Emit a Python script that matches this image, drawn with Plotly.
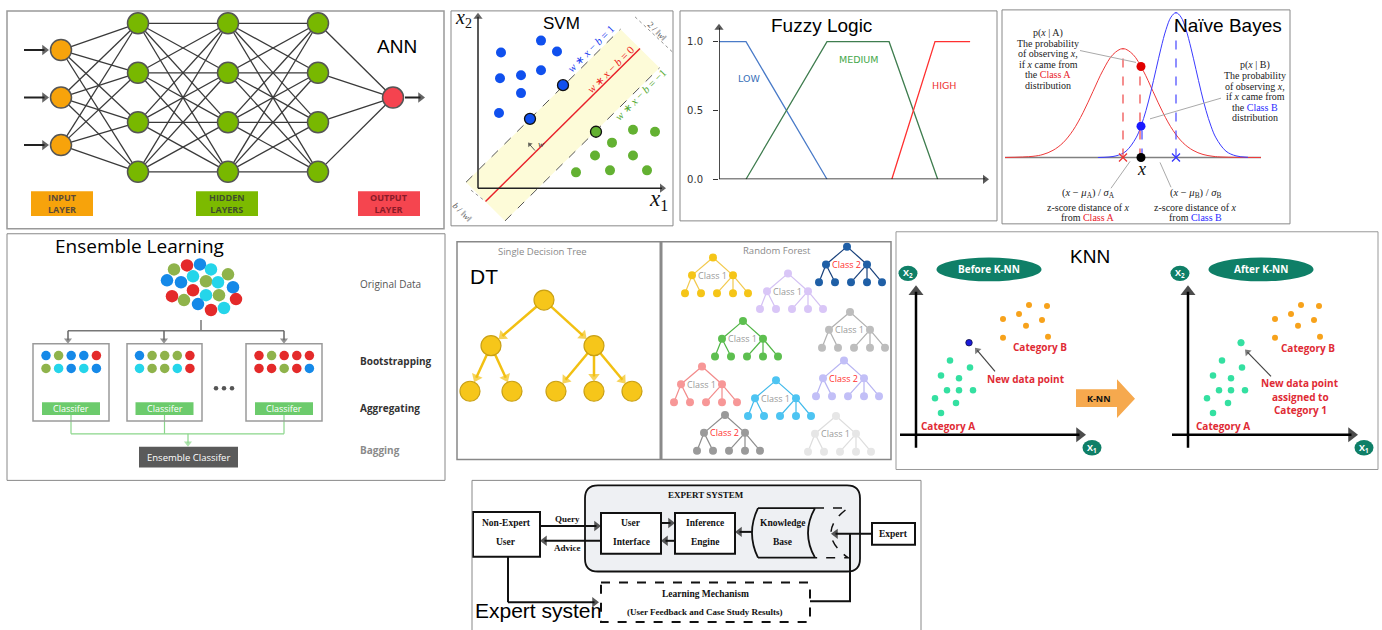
import math
import plotly.graph_objects as go

W, H = 1382, 630

# ============================ DATA ============================
# --- ANN ---
ann_layer_sizes = [3, 4, 4, 4, 1]
ann_layer_roles = ["input", "hidden", "hidden", "hidden", "output"]
ann_box_labels = ["INPUT<br>LAYER", "HIDDEN<br>LAYERS", "OUTPUT<br>LAYER"]

# --- SVM (feature space x1, x2) ---
svm_blue_x1 = [2.3, 6.3, 7.9, 2.2, 4.3, 6.3, 4.3, 2.1]
svm_blue_x2 = [13.7, 14.9, 13.8, 11.1, 11.4, 11.9, 9.6, 7.6]
svm_blue_sv_x1 = [8.5, 5.2]
svm_blue_sv_x2 = [10.4, 7.0]
svm_green_x1 = [15.5, 17.7, 13.4, 15.5, 11.7, 13.2, 16.9, 9.8]
svm_green_x2 = [5.9, 5.7, 4.6, 3.3, 3.3, 1.8, 1.8, 1.6]
svm_green_sv_x1 = [11.8]
svm_green_sv_x2 = [5.7]
svm_boundary = 2.1      # x1 - x2 on the separating hyperplane
svm_margin = 3.9
svm_line_labels = ["<i>w</i> ∗ <i>x</i> − <i>b</i> = 1",
                   "<i>w</i> ∗ <i>x</i> − <i>b</i> = 0",
                   "<i>w</i> ∗ <i>x</i> − <i>b</i> = −1"]

# --- Fuzzy logic membership functions ---
fz_low_x = [0, 1, 4]
fz_low_y = [1, 1, 0]
fz_med_x = [1, 4, 6.3, 8.1]
fz_med_y = [0, 1, 1, 0]
fz_high_x = [6.4, 8, 9.3]
fz_high_y = [0, 1, 1]
fz_tickvals = [0, 0.5, 1.0]
fz_ticktext = ["0.0", "0.5", "1.0"]

# --- Naive Bayes ---
nb_a_x = [0.2, 3, 4, 5, 6, 7, 8, 9, 10, 11, 12, 13, 14, 15, 16, 17, 18, 19, 20, 21, 22, 25.8]
nb_a_p = [0.0, 0.011, 0.028, 0.066, 0.135, 0.249, 0.411, 0.607, 0.801, 0.946, 1.0, 0.946,
          0.801, 0.607, 0.411, 0.249, 0.135, 0.066, 0.028, 0.011, 0.004, 0.0]
nb_b_x = [9.5, 11.3, 12.3, 13.3, 13.8, 14.3, 14.8, 15.3, 15.8, 16.3, 16.8, 17.3, 17.8, 18.3,
          18.8, 19.3, 19.8, 20.3, 20.8, 21.3, 22.3, 23.3, 24.5]
nb_b_p = [0.0, 0.015, 0.058, 0.18, 0.288, 0.432, 0.609, 0.807, 1.004, 1.174, 1.289, 1.33, 1.289,
          1.174, 1.004, 0.807, 0.609, 0.432, 0.288, 0.18, 0.058, 0.015, 0.002]
nb_mu_a, nb_peak_a = 12.0, 1.0
nb_mu_b, nb_peak_b = 17.3, 1.33
nb_obs, nb_pa_obs, nb_pb_obs = 13.8, 0.835, 0.288
nb_left_text = ["p(<i>x</i> | A)", "The probability", "of observing <i>x</i>,", "if <i>x</i> came from",
                "the <span style='color:#e8202a'>Class A</span>", "distribution"]
nb_right_text = ["p(<i>x</i> | B)", "The probability", "of observing <i>x</i>,", "if <i>x</i> came from",
                 "the <span style='color:#2a2aff'>Class B</span>", "distribution"]
nb_bl_text = ["(<i>x</i> − <i>μ</i><sub>A</sub>) / <i>σ</i><sub>A</sub>", "z-score distance of <i>x</i>",
              "from <span style='color:#e8202a'>Class A</span>"]
nb_br_text = ["(<i>x</i> − <i>μ</i><sub>B</sub>) / <i>σ</i><sub>B</sub>", "z-score distance of <i>x</i>",
              "from <span style='color:#2a2aff'>Class B</span>"]

# --- Ensemble learning ---
ens_cloud_x = [174, 187, 200, 211, 228, 167, 181, 193, 206, 218, 233, 172, 184, 193, 206, 219, 236, 198, 211, 224]
ens_cloud_y = [272, 268, 267, 272, 277, 283, 285, 279, 284, 285, 290, 299, 303, 293, 298, 298, 302, 307, 313, 311]
ens_cloud_c = ["G", "R", "B", "C", "G", "B", "B", "C", "G", "C", "B", "R", "G", "R", "C", "G", "R", "B", "R", "C"]
ens_bootstrap = [["B", "G", "B", "B", "R", "G", "C", "B", "C", "B"],
                 ["B", "G", "G", "G", "R", "C", "G", "G", "C", "R"],
                 ["R", "G", "R", "R", "R", "R", "R", "G", "R", "B"]]
ens_stage_labels = ["Original Data", "Bootstrapping", "Aggregating", "Bagging"]

# --- Decision tree / random forest ---
dt_parent = [None, 0, 0, 1, 1, 2, 2, 2]
rf_labels = ["Class 1", "Class 1", "Class 2", "Class 1", "Class 1", "Class 1", "Class 1", "Class 2", "Class 2", "Class 1"]

# --- KNN ---
knn_b_x1 = [11.3, 13.1, 8.7, 10.3, 12.6, 11.0, 8.7, 13.2]
knn_b_x2 = [13.1, 13.0, 11.7, 12.2, 11.6, 11.0, 9.8, 9.9]
knn_a_x1 = [3.4, 5.4, 2.5, 4.3, 3.1, 4.3, 5.7, 1.9, 4.0, 2.5]
knn_a_x2 = [7.5, 6.8, 6.0, 5.7, 4.5, 4.5, 4.5, 3.7, 3.2, 2.2]
knn_new_x1, knn_new_x2 = 5.3, 9.3

# --- Expert system ---
es_boxes = ["Non-Expert<br>User", "User<br>Interface", "Inference<br>Engine", "Expert"]

# ============================ HELPERS ============================
SANS = "Liberation Sans, Arial, sans-serif"
OPEN = "Open Sans, sans-serif"
SERIF = "Liberation Serif, Times New Roman, serif"
DJV = "DejaVu Sans, Verdana, sans-serif"

fig = go.Figure()
AX, ANN, SHP = {}, [], []
_n = [0]


def new_axis(px0, px1, py0, py1, xr=None, yr=None):
    _n[0] += 1
    s = "" if _n[0] == 1 else str(_n[0])
    xr = xr or [px0, px1]
    yr = yr or [py1, py0]
    AX["xaxis" + s] = dict(domain=[px0 / W, px1 / W], range=xr, visible=False,
                           anchor="y" + s, fixedrange=True)
    AX["yaxis" + s] = dict(domain=[1 - py1 / H, 1 - py0 / H], range=yr, visible=False,
                           anchor="x" + s, fixedrange=True)
    sx = (px1 - px0) / (xr[1] - xr[0])      # screen px per unit (rightwards)
    sy = (py1 - py0) / (yr[1] - yr[0])      # screen px per unit (upwards)
    return ("x" + s, "y" + s, s, sx, sy)


def T(a, x, y, s, size=10, color="#000", fam=SANS, xanchor="center", yanchor="middle", angle=0):
    ANN.append(dict(xref=a[0], yref=a[1], x=x, y=y, text=s, showarrow=False,
                    font=dict(size=size, color=color, family=fam),
                    xanchor=xanchor, yanchor=yanchor, textangle=angle))


def ARW(a, x0, y0, x1, y1, color="#000", width=1.5, head=8, standoff=0, startstandoff=0):
    sx, sy = a[3], a[4]
    X0, Y0, X1, Y1 = x0 * sx, y0 * sy, x1 * sx, y1 * sy
    L = math.hypot(X1 - X0, Y1 - Y0)
    ux, uy = (X1 - X0) / L, (Y1 - Y0) / L
    tx, ty = X1 - ux * standoff, Y1 - uy * standoff
    bx, by = X0 + ux * startstandoff, Y0 + uy * startstandoff
    cx, cy = tx - ux * head / 2, ty - uy * head / 2
    fig.add_trace(go.Scatter(x=[bx / sx, cx / sx], y=[by / sy, cy / sy], xaxis=a[0], yaxis=a[1],
                             mode="lines+markers", line=dict(color=color, width=width),
                             marker=dict(symbol="triangle-up", size=[0, head], color=color,
                                         angleref="previous", line=dict(width=0)),
                             hoverinfo="skip", showlegend=False, cliponaxis=False))


def LN(a, polys, color, width=1.0, dash=None, shape="linear"):
    xs, ys = [], []
    for poly in polys:
        for p in poly:
            xs.append(p[0]); ys.append(p[1])
        xs.append(None); ys.append(None)
    fig.add_trace(go.Scatter(x=xs, y=ys, xaxis=a[0], yaxis=a[1], mode="lines",
                             line=dict(color=color, width=width, dash=dash, shape=shape),
                             hoverinfo="skip", showlegend=False, cliponaxis=False))


def PT(a, x, y, color, size, lc=None, lw=0, symbol="circle"):
    fig.add_trace(go.Scatter(x=list(x), y=list(y), xaxis=a[0], yaxis=a[1], mode="markers",
                             marker=dict(color=color, size=size, symbol=symbol,
                                         line=dict(color=lc or color, width=lw)),
                             hoverinfo="skip", showlegend=False, cliponaxis=False))


def RECT(a, x0, y0, x1, y1, fill="rgba(0,0,0,0)", lc="rgba(0,0,0,0)", lw=0, dash="solid", layer="above"):
    SHP.append(dict(type="rect", xref=a[0], yref=a[1], x0=x0, y0=y0, x1=x1, y1=y1,
                    fillcolor=fill, line=dict(color=lc, width=lw, dash=dash), layer=layer))


def ELL(a, cx, cy, rx, ry, fill):
    SHP.append(dict(type="circle", xref=a[0], yref=a[1], x0=cx - rx, x1=cx + rx, y0=cy - ry, y1=cy + ry,
                    fillcolor=fill, line=dict(width=0), layer="above"))


def PATH(a, d, lc="#000", lw=1.5, dash="solid", fill="rgba(0,0,0,0)", layer="above"):
    SHP.append(dict(type="path", xref=a[0], yref=a[1], path=d,
                    line=dict(color=lc, width=lw, dash=dash), fillcolor=fill, layer=layer))


def BORDER(px0, py0, px1, py1, color="#999", lw=1):
    SHP.append(dict(type="rect", xref="paper", yref="paper", x0=px0 / W, x1=px1 / W,
                    y0=1 - py1 / H, y1=1 - py0 / H, line=dict(color=color, width=lw),
                    fillcolor="rgba(0,0,0,0)", layer="above"))


# ============================ ANN ============================
a = new_axis(7, 444, 11, 231)
ann_x = [61, 138, 228, 318, 393]
ann_cy = 98.5
ann_gap = {1: 0, 3: 48, 4: 50}
role_col = {"input": "#F7A30B", "hidden": "#78B800", "output": "#F5434F"}
nodes = []
for L, n in enumerate(ann_layer_sizes):
    nodes.append([(ann_x[L], ann_cy + (i - (n - 1) / 2) * ann_gap[n]) for i in range(n)])
edges = []
for L in range(len(nodes) - 1):
    for p in nodes[L]:
        for q in nodes[L + 1]:
            edges.append([p, q])
LN(a, edges, "#3a3a3a", 1.3)
for L, layer_nodes in enumerate(nodes):
    PT(a, [p[0] for p in layer_nodes], [p[1] for p in layer_nodes], role_col[ann_layer_roles[L]], 21, "#555", 1.5)
for p in nodes[0]:
    ARW(a, 24, p[1], 49, p[1], "#222", 2, 9)
ARW(a, 405, ann_cy, 425, ann_cy, "#222", 2, 9)
box_geo = [(31, 93, "#F7A30B", "#5b4a36"), (196, 258, "#7CBA00", "#3f4d2c"), (358, 420, "#F5454F", "#8a1a28")]
for (x0, x1, fc, tc), lab in zip(box_geo, ann_box_labels):
    RECT(a, x0, 193, x1, 218, fill=fc)
    T(a, (x0 + x1) / 2, 205.5, "<b>" + lab + "</b>", 9, tc, OPEN)
T(a, 397, 47, "ANN", 19, "#000", SANS)
BORDER(7, 11, 444, 231, "#999", 1.5)

# ============================ SVM ============================
a = new_axis(451, 673, 11, 228, xr=[-2.7, 19.5], yr=[-3.8, 17.9])


def hp(m, s):
    return ((m + s) / 2, (s - m) / 2)


s0, s1 = -0.6, 30.3
m_u, m_l = svm_boundary - svm_margin, svm_boundary + svm_margin
band = [hp(m_u, s0), hp(m_l, s0), hp(m_l, s1), hp(m_u, s1), hp(m_u, s0)]
fig.add_trace(go.Scatter(x=[p[0] for p in band], y=[p[1] for p in band], xaxis=a[0], yaxis=a[1],
                         mode="lines", fill="toself", fillcolor="#fdfbd8", line=dict(width=0),
                         hoverinfo="skip", showlegend=False))
LN(a, [[hp(m_u, s0), hp(m_u, s1)], [hp(m_l, s0), hp(m_l, s1)]], "#555", 1, "dash")
LN(a, [[hp(svm_boundary, s0), hp(svm_boundary, s1)]], "#e8202a", 1.5)
ARW(a, 0, 0, 0, 17.7, "#222", 1.5, 8)
ARW(a, 0, 0, 18.8, 0, "#222", 1.5, 8)
PT(a, svm_blue_x1, svm_blue_x2, "#1050ee", 10)
PT(a, svm_blue_sv_x1, svm_blue_sv_x2, "#1050ee", 11, "#111", 1.3)
PT(a, svm_green_x1, svm_green_x2, "#63b132", 10)
PT(a, svm_green_sv_x1, svm_green_sv_x2, "#63b132", 11, "#111", 1.3)
T(a, 11.2, 14.1, svm_line_labels[0], 11, "#2040f0", SERIF, angle=-45)
T(a, 13.3, 12.0, svm_line_labels[1], 11, "#ee2020", SERIF, angle=-45)
T(a, 16.2, 9.4, svm_line_labels[2], 11, "#55aa33", SERIF, angle=-45)
ARW(a, 5.7, 3.8, 5.0, 4.6, "#333", 0.8, 5)
T(a, 6.3, 4.5, "<i>w</i>", 9, "#333", SERIF)
LN(a, [[(15.7, 17.3), (19.5, 13.7)], [(-0.7, -0.2), (0.7, -1.3)]], "#777", 0.8, "dot")
T(a, 17.9, 15.9, "2 / ‖<i>w</i>‖", 9, "#555", SERIF, angle=45)
T(a, -1.6, -2.4, "<i>b</i> / ‖<i>w</i>‖", 9, "#555", SERIF, angle=45)
T(a, -1.5, 17.1, "<i>x</i><sub>2</sub>", 20, "#111", SERIF)
T(a, 18.0, -1.2, "<i>x</i><sub>1</sub>", 23, "#111", SERIF)
T(a, 8.3, 16.6, "SVM", 17, "#000", SANS)
BORDER(451, 11, 673, 228, "#888", 1)

# ============================ FUZZY ============================
a = new_axis(719, 989, 24, 181, xr=[0, 10], yr=[0, 1.13])
AX["yaxis" + a[2]].update(visible=True, showgrid=False, zeroline=False, showline=False, ticks="outside",
                          ticklen=5, tickwidth=1, tickcolor="#333", tickvals=fz_tickvals,
                          ticktext=fz_ticktext, tickfont=dict(size=10, color="#333", family=DJV),
                          ticklabelstandoff=8)
fig.add_trace(go.Scatter(x=fz_low_x, y=fz_low_y, xaxis=a[0], yaxis=a[1], mode="lines",
                         line=dict(color="#4a7bc8", width=1.3), hoverinfo="skip", showlegend=False, cliponaxis=False))
fig.add_trace(go.Scatter(x=fz_med_x, y=fz_med_y, xaxis=a[0], yaxis=a[1], mode="lines",
                         line=dict(color="#3f7d4f", width=1.3), hoverinfo="skip", showlegend=False, cliponaxis=False))
fig.add_trace(go.Scatter(x=fz_high_x, y=fz_high_y, xaxis=a[0], yaxis=a[1], mode="lines",
                         line=dict(color="#ff3030", width=1.3), hoverinfo="skip", showlegend=False, cliponaxis=False))
ARW(a, 0, 0, 0, 1.13, "#111", 1.5, 8)
ARW(a, 0, 0, 10, 0, "#111", 1.5, 8)
T(a, 1.11, 0.73, "LOW", 9.5, "#3a70b8", DJV)
T(a, 5.15, 0.87, "MEDIUM", 9.5, "#45a84a", DJV)
T(a, 8.33, 0.68, "HIGH", 9.5, "#ee3030", DJV)
T(a, 3.81, 1.115, "Fuzzy Logic", 19, "#000", SANS)
T(a, 5.15, -0.18, "Value (measured variable)", 10.5, "#222", DJV)
BORDER(680, 11, 997, 223, "#888", 1)

# ============================ NAIVE BAYES ============================
a = new_axis(1003, 1290, 10, 227, xr=[0, 28.7], yr=[-0.618, 1.355])
LN(a, [[(0.2, 0), (25.8, 0)]], "#808080", 1.5)
fig.add_trace(go.Scatter(x=nb_a_x, y=nb_a_p, xaxis=a[0], yaxis=a[1], mode="lines",
                         line=dict(color="#ee3a3a", width=1, shape="spline"),
                         hoverinfo="skip", showlegend=False, cliponaxis=False))
fig.add_trace(go.Scatter(x=nb_b_x, y=nb_b_p, xaxis=a[0], yaxis=a[1], mode="lines",
                         line=dict(color="#3a3aff", width=1, shape="spline"),
                         hoverinfo="skip", showlegend=False, cliponaxis=False))
LN(a, [[(nb_mu_a, 0), (nb_mu_a, nb_peak_a)], [(nb_obs - 0.1, 0), (nb_obs - 0.1, nb_pa_obs)]], "#ee4444", 1.2, "dash")
LN(a, [[(nb_mu_b, 0), (nb_mu_b, nb_peak_b)], [(nb_obs + 0.1, 0), (nb_obs + 0.1, nb_pb_obs)]], "#4444ff", 1.2, "dash")
LN(a, [[(7.7, 0.982), (13.3, 0.873)], [(14.7, 0.355), (21.8, 0.545)],
       [(10.8, -0.282), (12.7, -0.036)], [(15.7, -0.045), (16.8, -0.273)]], "#aaaaaa", 1)
PT(a, [nb_mu_a], [0], "#ee3333", 8, "#ee3333", 1.3, "x-thin-open")
PT(a, [nb_mu_b], [0], "#3333ff", 8, "#3333ff", 1.3, "x-thin-open")
PT(a, [nb_obs], [0], "#000", 9)
PT(a, [nb_obs], [nb_pa_obs], "#e00000", 9)
PT(a, [nb_obs], [nb_pb_obs], "#1a1aff", 9)
T(a, nb_obs, -0.105, "<i>x</i>", 18, "#111", SERIF)
for i, s in enumerate(nb_left_text):
    T(a, 4.5, 1.145 - i * 0.096, s, 10, "#222", SERIF)
for i, s in enumerate(nb_right_text):
    T(a, 25.2, 0.845 - i * 0.096, s, 10, "#222", SERIF)
for ys, s in zip([-0.33, -0.462, -0.55], nb_bl_text):
    T(a, 8.5, ys, s, 10.5 if ys == -0.33 else 10, "#222", SERIF)
for ys, s in zip([-0.33, -0.462, -0.55], nb_br_text):
    T(a, 19.2, ys, s, 10.5 if ys == -0.33 else 10, "#222", SERIF)
T(a, 22.5, 1.215, "Naïve Bayes", 19, "#000", SANS)
BORDER(1002, 10, 1290, 226, "#888", 1)

# ============================ ENSEMBLE ============================
a = new_axis(7, 445, 236, 485)
ens_pal = {"G": "#8fb34b", "R": "#e42a2a", "B": "#1589e8", "C": "#25d5ea"}
PT(a, ens_cloud_x, ens_cloud_y, [ens_pal[c] for c in ens_cloud_c], 12.5)
LN(a, [[(201, 323), (201, 334)], [(68, 334), (284, 334)]], "#777", 1.5)
drop_x = [68, 164, 284]
for dx in drop_x:
    ARW(a, dx, 334, dx, 347, "#666", 1.5, 7)
box_x = [(33, 109), (127, 202), (246, 322)]
for (x0, x1), cols in zip(box_x, ens_bootstrap):
    RECT(a, x0, 347, x1, 425, lc="#9a9a9a", lw=1.5)
    cx = (x0 + x1) / 2
    xs = [cx - 25 + 12.6 * (i % 5) for i in range(10)]
    ys = [359 if i < 5 else 372 for i in range(10)]
    PT(a, xs, ys, [ens_pal[c] for c in cols], 9.5)
    RECT(a, cx - 29, 406, cx + 29, 419, fill="#6ccb6c")
    T(a, cx, 412.5, "Classifer", 9, "#ffffff", OPEN)
PT(a, [216, 224, 232], [392, 392, 392], "#555", 4.5)
LN(a, [[(71, 419), (71, 438)], [(164.5, 419), (164.5, 438)], [(284, 419), (284, 438)], [(71, 438), (284, 438)]],
   "#8ad68a", 1.2)
ARW(a, 188, 438, 188, 451, "#8ad68a", 1.2, 7)
RECT(a, 139, 451, 238, 472, fill="#5a5a5a")
T(a, 188.5, 461.5, "Ensemble Classifer", 9.5, "#ffffff", OPEN)
T(a, 53, 248, "Ensemble Learning", 19, "#000", OPEN, xanchor="left")
T(a, 358, 287, ens_stage_labels[0], 10, "#555", OPEN, xanchor="left")
T(a, 358, 364, "<b>" + ens_stage_labels[1] + "</b>", 10, "#333", OPEN, xanchor="left")
T(a, 358, 412, "<b>" + ens_stage_labels[2] + "</b>", 10, "#333", OPEN, xanchor="left")
T(a, 358, 454, "<b>" + ens_stage_labels[3] + "</b>", 10, "#8a8a8a", OPEN, xanchor="left")
BORDER(7, 236, 445, 485, "#888", 1)

# ============================ DT / RANDOM FOREST ============================
a = new_axis(457, 891, 244, 464)
dt_xy = [(544, 303), (491, 349), (594, 349), (470, 395), (512, 395), (556, 395), (594, 395), (632, 395)]
for i, p in enumerate(dt_parent):
    if p is not None:
        ARW(a, dt_xy[p][0], dt_xy[p][1], dt_xy[i][0], dt_xy[i][1], "#f2c012", 2.5, 10,
            standoff=10, startstandoff=9)
PT(a, [q[0] for q in dt_xy], [q[1] for q in dt_xy], "#f6c61a", 20, "#c9a014", 1.2)
T(a, 542, 254, "Single Decision Tree", 9.5, "#8a8a8a", OPEN)
T(a, 484, 279, "DT", 21, "#000", SANS)
LN(a, [[(661, 244), (661, 464)]], "#8a8a8a", 3)
T(a, 777, 253, "Random Forest", 9.5, "#8a8a8a", OPEN)
rf_root = [(713, 260), (788, 276), (847, 249), (850, 315), (743, 324),
           (702, 370), (776, 384), (844, 364), (725, 419), (836, 420)]
rf_node_col = ["#f5c518", "#d9c6f7", "#1f5fa6", "#bdbdbd", "#5dbf4f",
               "#f79797", "#4dc4f2", "#c2bff7", "#9a9a9a", "#e6e6e6"]
rf_edge_col = ["#f2c94c", "#d3c0f3", "#163f7a", "#b0b0b0", "#4eb443",
               "#f28a8a", "#3fb9ea", "#b7b4f2", "#8c8c8c", "#dddddd"]
rf_off = [(0, 0), (-21, 18), (20, 18), (-28, 36), (-12, 36), (4, 36), (20, 36), (35, 36)]
for (rx, ry), nc, ec, lab in zip(rf_root, rf_node_col, rf_edge_col, rf_labels):
    pos = [(rx + dx, ry + dy) for dx, dy in rf_off]
    LN(a, [[pos[p], pos[i]] for i, p in enumerate(dt_parent) if p is not None], ec, 1.2)
    PT(a, [q[0] for q in pos], [q[1] for q in pos], nc, 8)
    T(a, rx - 0.5, ry + 18, lab, 9, "#ff3030" if lab == "Class 2" else "#9a9a9a", OPEN)
BORDER(457, 244, 891, 464, "#888", 1.5)

# ============================ KNN ============================
TEAL = "#0f7f67"


def knn_half(a, title, new_col, lbl, lbl_x, lbl_y0, arr_from, arr_to, catB, catA):
    ARW(a, 0, -1.3, 0, 15.1, "#000", 2.5, 13)
    ARW(a, -1.6, 0, 17.0, 0, "#000", 2.5, 13)
    ELL(a, -0.8, 16.3, 0.95, 0.78, TEAL)
    T(a, -0.8, 16.3, "<b>X<sub>2</sub></b>", 9, "#fff", OPEN)
    ELL(a, 17.6, -1.3, 0.95, 0.78, TEAL)
    T(a, 17.6, -1.3, "<b>X<sub>1</sub></b>", 9, "#fff", OPEN)
    ELL(a, 7.3, 16.7, 5.25, 1.2, TEAL)
    T(a, 7.3, 16.7, "<b>" + title + "</b>", 10, "#fff", OPEN)
    PT(a, knn_b_x1, knn_b_x2, "#f7a21b", 6)
    PT(a, knn_a_x1, knn_a_x2, "#34e0a1", 6.5)
    PT(a, [knn_new_x1], [knn_new_x2], new_col, 6.5, "#111144" if new_col != "#34e0a1" else new_col, 0.8)
    ARW(a, arr_from[0], arr_from[1], arr_to[0], arr_to[1], "#444", 1.2, 7)
    for i, s in enumerate(lbl):
        T(a, lbl_x, lbl_y0 - i * 1.35, "<b>" + s + "</b>", 10, "#e02b35", OPEN)
    T(a, catB[0], catB[1], "<b>Category B</b>", 10, "#e02b35", OPEN)
    T(a, catA[0], catA[1], "<b>Category A</b>", 10, "#e02b35", OPEN)


a = new_axis(896, 1137, 234, 472, xr=[-2.0, 22.1], yr=[-3.3, 20.5])
knn_half(a, "Before K-NN", "#1a1adb", ["New data point"], 11.0, 5.6, (7.9, 6.4), (5.9, 8.8), (12.4, 8.9), (3.2, 0.9))
arr = [(16.0, 4.6), (20.1, 4.6), (20.1, 5.6), (21.9, 3.65), (20.1, 1.7), (20.1, 2.8), (16.0, 2.8), (16.0, 4.6)]
fig.add_trace(go.Scatter(x=[p[0] for p in arr], y=[p[1] for p in arr], xaxis=a[0], yaxis=a[1], mode="lines",
                         fill="toself", fillcolor="#f6a94e", line=dict(width=0), hoverinfo="skip",
                         showlegend=False, cliponaxis=False))
T(a, 18.3, 3.7, "<b>K-NN</b>", 9, "#111", OPEN)
T(a, 17.4, 18.0, "KNN", 19, "#000", SANS)
a = new_axis(1137, 1378, 234, 472, xr=[-5.1, 19.0], yr=[-3.3, 20.5])
knn_half(a, "After K-NN", "#34e0a1", ["New data point", "assigned to", "Category 1"], 11.2, 5.2,
         (8.3, 5.9), (5.7, 8.6), (12.0, 8.8), (3.5, 0.9))
BORDER(896, 234, 1378, 474, "#999", 1)

# ============================ EXPERT SYSTEM ============================
a = new_axis(472, 921, 485, 630)
fig.add_trace(go.Scatter(x=[475], y=[619], xaxis=a[0], yaxis=a[1], mode="text", text=["Expert system"],
                         textposition="middle right", textfont=dict(size=21, color="#000", family=SANS),
                         hoverinfo="skip", showlegend=False, cliponaxis=False))


def rrect(x0, y0, x1, y1, r):
    return (f"M {x0 + r},{y0} L {x1 - r},{y0} Q {x1},{y0} {x1},{y0 + r} L {x1},{y1 - r} "
            f"Q {x1},{y1} {x1 - r},{y1} L {x0 + r},{y1} Q {x0},{y1} {x0},{y1 - r} "
            f"L {x0},{y0 + r} Q {x0},{y0} {x0 + r},{y0} Z")


PATH(a, rrect(585, 490, 860, 577, 13), "#111", 1.8, fill="#eef0f3", layer="below")
T(a, 706, 500, "<b>EXPERT SYSTEM</b>", 9, "#111", SERIF)
es_geo = [(473, 517, 540, 562), (601, 518, 661, 559), (675, 518, 735, 559), (872, 528, 915, 550)]
for (x0, y0, x1, y1), lab in zip(es_geo, es_boxes):
    RECT(a, x0, y0, x1, y1, fill="#ffffff", lc="#111", lw=2, layer="below")
    parts = lab.split("<br>")
    if len(parts) == 2:
        T(a, (x0 + x1) / 2, 528, "<b>" + parts[0] + "</b>", 9.5, "#111", SERIF)
        T(a, (x0 + x1) / 2, 547, "<b>" + parts[1] + "</b>", 9.5, "#111", SERIF)
    else:
        T(a, (x0 + x1) / 2, 539, "<b>" + parts[0] + "</b>", 9.5, "#111", SERIF)
# knowledge base cylinder
PATH(a, "M 758,513 Q 746,538 758,563", "#111", 1.8)
PATH(a, "M 758,513 L 815,513 M 758,563 L 815,563", "#111", 1.8)
PATH(a, "M 815,513 Q 801,538 815,563", "#111", 1.8)
PATH(a, "M 815,513 L 848,513 Q 814,538 848,563 L 815,563", "#111", 1.5, dash="dash")
T(a, 782, 528, "<b>Knowledge</b>", 9.5, "#111", SERIF)
T(a, 782, 547, "<b>Base</b>", 9.5, "#111", SERIF)
# learning mechanism (dashed) - above traces so that it masks the end of the caption
RECT(a, 601, 588, 810, 628, fill="#ffffff", lc="#111", lw=2, dash="dash")
T(a, 705, 600, "<b>Learning Mechanism</b>", 9.5, "#111", SERIF)
T(a, 705, 618, "<b>(User Feedback and Case Study Results)</b>", 9, "#111", SERIF)
# connectors
ARW(a, 540, 531, 601, 531, "#111", 2, 9)
ARW(a, 601, 546, 540, 546, "#111", 2, 9)
ARW(a, 661, 528, 675, 528, "#111", 2, 9)
ARW(a, 675, 546, 661, 546, "#111", 2, 9)
ARW(a, 752, 537, 735, 537, "#111", 2, 9)
ARW(a, 872, 539, 831, 539, "#111", 2, 9)
LN(a, [[(508, 562), (508, 608)], [(810, 607), (850, 607), (850, 539)]], "#111", 2)
ARW(a, 508, 608, 599, 608, "#111", 2, 9)
T(a, 567, 524, "<b>Query</b>", 9, "#111", SERIF)
T(a, 567, 553, "<b>Advice</b>", 9, "#111", SERIF)
BORDER(472, 485, 921, 650, "#888", 1)

# ============================ LAYOUT ============================
fig.update_layout(width=W, height=H, margin=dict(l=0, r=0, t=0, b=0), autosize=False,
                  paper_bgcolor="#ffffff", plot_bgcolor="rgba(0,0,0,0)", showlegend=False,
                  annotations=ANN, shapes=SHP, **AX)
fig.write_html("out.html", config={"displayModeBar": False},
               post_script="document.body.style.margin='0px';document.body.style.overflow='hidden';")
